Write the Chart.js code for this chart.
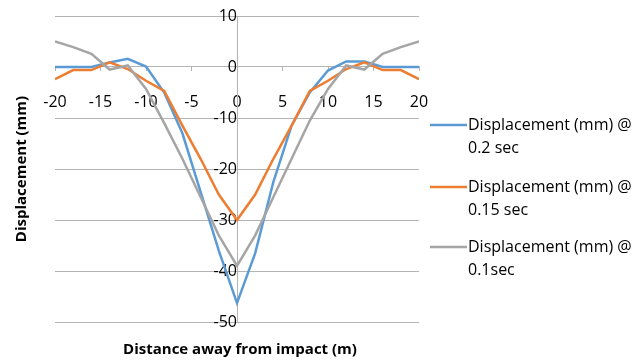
<!DOCTYPE html>
<html>
<head>
<meta charset="utf-8">
<script src="https://cdn.jsdelivr.net/npm/chart.js@4"></script>
<style>
  html, body { margin: 0; padding: 0; background: #fff; }
  #wrap { width: 633px; height: 360px; }
</style>
</head>
<body>
<div id="wrap"><canvas id="chart"></canvas></div>
<script>
// 距離 (m)
const distance = [-20, -18, -16, -14, -12, -10, -8, -6, -4, -2, 0, 2, 4, 6, 8, 10, 12, 14, 16, 18, 20];

// 変位 (mm)
const disp02 = [0, 0, 0, 0.9, 1.6, 0.1, -5, -13, -24.5, -36, -46.3, -36.5, -22.5, -11.5, -5, -0.7, 1.1, 1.1, 0, 0, 0];
const disp015 = [-2.4, -0.6, -0.6, 0.9, -0.4, -2.7, -4.7, -11.5, -18, -25, -30, -25, -18, -11.5, -4.7, -2.7, -0.4, 0.9, -0.6, -0.6, -2.4];
const disp01 = [5, 3.9, 2.6, -0.5, 0.3, -4.3, -11, -18, -25.5, -33, -39, -33, -25.5, -18, -10.5, -4.3, 0.3, -0.5, 2.6, 3.9, 5];

const seriesLabels = [
  "Displacement (mm) @ 0.2 sec",
  "Displacement (mm) @ 0.15 sec",
  "Displacement (mm) @ 0.1sec",
];
const seriesColors = ["#5b9bd5", "#ed7d31", "#a5a5a5"];

const xTitle = "Distance away from impact (m)";
const yTitle = "Displacement (mm)";

const gridColor = "#b4b4b4";
const tickFont = { family: "'Open Sans', sans-serif", size: 16 };

function toPoints(values) {
  return values.map((v, i) => ({ x: distance[i], y: v }));
}

// 軸がレイアウトの場所を取らないようにする
function noSpace(scale) {
  if (scale.isHorizontal()) scale.height = 0;
  else scale.width = 0;
  scale.paddingTop = 0;
  scale.paddingBottom = 0;
  scale.paddingLeft = 0;
  scale.paddingRight = 0;
}

// 軸タイトルと凡例を描く
const decorPlugin = {
  id: "decor",
  afterDraw(chart) {
    const ctx = chart.ctx;
    const area = chart.chartArea;
    ctx.save();
    ctx.fillStyle = "#000";
    ctx.font = "bold 15px 'Open Sans', sans-serif";
    ctx.textAlign = "center";
    ctx.textBaseline = "middle";
    ctx.fillText(xTitle, (area.left + area.right) / 2 + 3, 350);
    ctx.save();
    ctx.translate(22, (area.top + area.bottom) / 2);
    ctx.rotate(-Math.PI / 2);
    ctx.fillText(yTitle, 0, 0);
    ctx.restore();

    // 凡例
    const legendY = [125, 187, 247];
    ctx.font = "16px 'Open Sans', sans-serif";
    ctx.textAlign = "left";
    chart.data.datasets.forEach((ds, i) => {
      const y = legendY[i];
      ctx.strokeStyle = ds.borderColor;
      ctx.lineWidth = 2.5;
      ctx.beginPath();
      ctx.moveTo(430, y);
      ctx.lineTo(467, y);
      ctx.stroke();
      const cut = ds.label.indexOf("@") + 1;
      ctx.fillStyle = "#000";
      ctx.fillText(ds.label.slice(0, cut), 468, y);
      ctx.fillText(ds.label.slice(cut).trim(), 468, y + 23);
    });
    ctx.restore();
  },
};

new Chart(document.getElementById("chart"), {
  type: "line",
  data: {
    datasets: [
      { label: seriesLabels[0], data: toPoints(disp02), borderColor: seriesColors[0], order: 2 },
      { label: seriesLabels[1], data: toPoints(disp015), borderColor: seriesColors[1], order: 1 },
      { label: seriesLabels[2], data: toPoints(disp01), borderColor: seriesColors[2], order: 0 },
    ],
  },
  options: {
    responsive: true,
    maintainAspectRatio: false,
    animation: false,
    layout: { padding: { left: 55, right: 214, top: 16, bottom: 38 } },
    elements: {
      line: { borderWidth: 2.5, tension: 0 },
      point: { radius: 0 },
    },
    plugins: {
      legend: { display: false },
      tooltip: { enabled: false },
    },
    scales: {
      x: {
        type: "linear",
        min: -20,
        max: 20,
        position: { y: 0 },
        afterFit: noSpace,
        ticks: { stepSize: 5, color: "#000", font: tickFont, padding: 22, maxRotation: 0 },
        grid: { drawOnChartArea: false, drawTicks: true, tickLength: 4, color: gridColor },
        border: { color: gridColor },
      },
      y: {
        type: "linear",
        min: -50,
        max: 10,
        position: { x: 0 },
        afterFit: noSpace,
        ticks: { stepSize: 10, color: "#000", font: tickFont, padding: 17 },
        grid: { color: gridColor, drawTicks: false },
        border: { color: gridColor },
      },
    },
  },
  plugins: [decorPlugin],
});
</script>
</body>
</html>
